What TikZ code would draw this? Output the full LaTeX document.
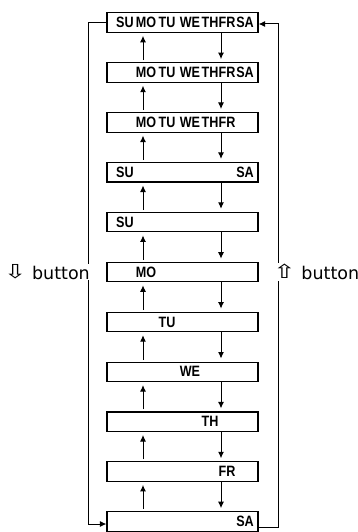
\documentclass[tikz,border=0pt]{standalone}
\usepackage{fontspec}
\setmainfont{DejaVu Sans}
\newfontfamily\lcdfont[FakeStretch=0.84]{Liberation Sans Bold}
\usetikzlibrary{arrows.meta}
\tikzset{
  daybox/.style={draw, line width=1.1pt, minimum width=151pt, minimum height=19.5pt, inner sep=0pt},
  daytext/.style={font=\lcdfont\fontsize{15}{15}\selectfont, inner sep=0pt, anchor=base},
  conn/.style={line width=1pt, -{Latex[length=6.5pt,width=6pt]}},
  lbl/.style={fill=white, font=\fontsize{17.5}{17.5}\selectfont, inner sep=1pt}
}
\newcommand{\widesym}[1]{\raisebox{0.3pt}{\scalebox{1.55}[1.1]{#1}}}
\def\xSU{125}\def\xMO{146}\def\xTU{167}\def\xWE{190}\def\xTH{210}\def\xFR{227}\def\xSA{245}
\begin{document}
\begin{tikzpicture}[x=1pt,y=-1pt]
\useasboundingbox (0,0) rectangle (358,532);
\coordinate (upx) at (143,0);
\coordinate (dnx) at (221,0);
\coordinate (lx) at (88,0);
\coordinate (rx) at (278,0);
\foreach \i/\days in {0/{SU,MO,TU,WE,TH,FR,SA},1/{MO,TU,WE,TH,FR,SA},2/{MO,TU,WE,TH,FR},3/{SU,SA},4/{SU},5/{MO},6/{TU},7/{WE},8/{TH},9/{FR},10/{SA}}{
  \node[daybox] (b\i) at (182.5,{22.5+49.9*\i}) {};
  \foreach \d in \days {
    \node[daytext] (t\i\d) at (\csname x\d\endcsname,{27.6+49.9*\i}) {\d};
  }
}
\foreach \i in {0,...,9}{
  \pgfmathtruncatemacro{\j}{\i+1}
  \draw[conn, shorten <=2pt, shorten >=3pt] (b\j.north -| upx) -- (b\i.south -| upx);
  \draw[conn, shorten >=3pt] (b\i.south -| dnx) -- (b\j.north -| dnx);
}
\draw[conn] (b0.west) -- (b0.west -| lx) -- ([yshift=-2.5pt]b10.west -| lx) -- ([yshift=-2.5pt]b10.west);
\draw[conn] ([yshift=-6pt]b10.east) -- ([yshift=-6pt]b10.east -| rx) -- ([yshift=-1.5pt]b0.east -| rx) -- ([yshift=-1.5pt]b0.east);
\node[lbl, anchor=east] (lbtn) at (91,272) {\widesym{⇩} button};
\node[lbl, anchor=west] (rbtn) at (272,272) {\widesym{⇧} button};
\end{tikzpicture}
\end{document}
